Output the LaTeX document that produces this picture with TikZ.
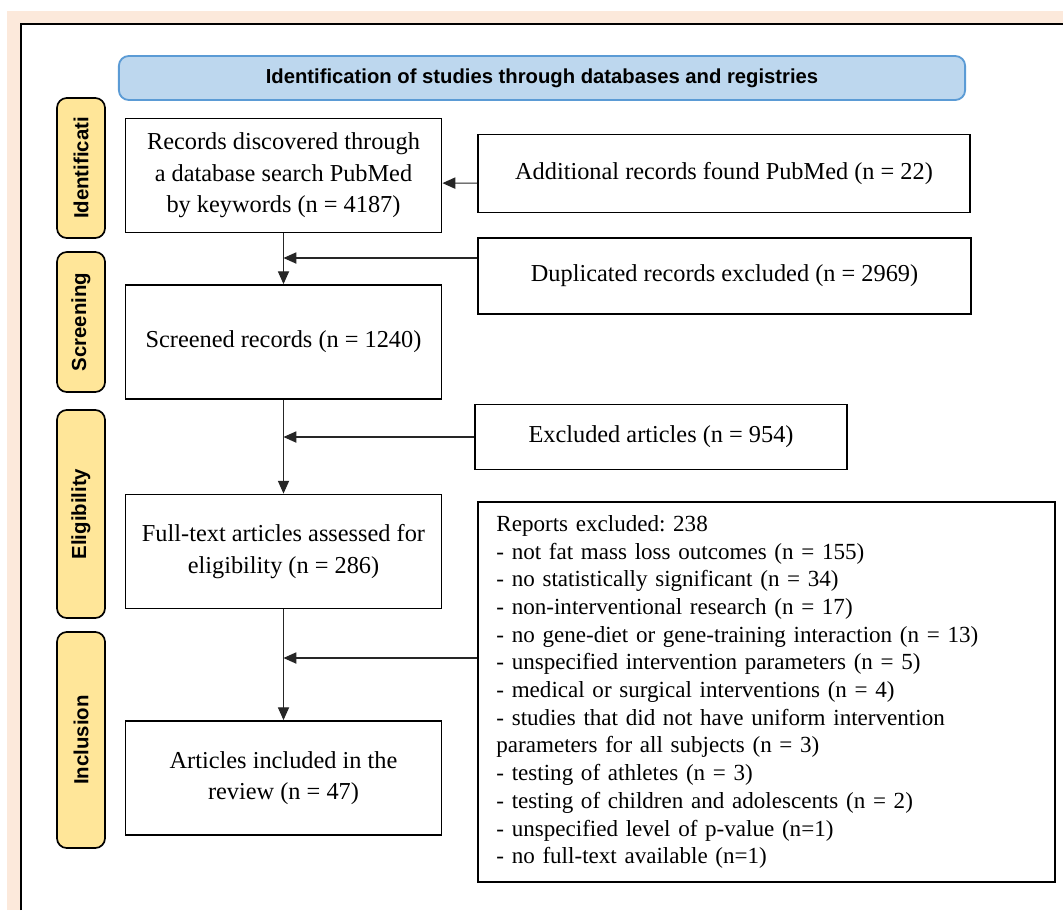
\documentclass[tikz,border=0pt]{standalone}
\usepackage{fontspec}
\setmainfont{Liberation Serif}
\setsansfont{Liberation Sans}
\usetikzlibrary{arrows.meta, positioning, calc}
\definecolor{peach}{RGB}{252,233,219}
\definecolor{headfill}{RGB}{189,215,238}
\definecolor{headline}{RGB}{91,155,213}
\definecolor{phasefill}{RGB}{255,230,153}
\frenchspacing
\tikzset{
    stepbox/.style={rectangle, draw, line width=1.3pt, minimum width=7.9cm, minimum height=2.85cm, align=center, inner sep=2pt, font=\fontsize{17.3}{22.5}\selectfont},
    sidebox/.style={rectangle, draw, line width=1.3pt, align=center, inner sep=2pt, font=\fontsize{17.3}{22.5}\selectfont},
    phasebox/.style={rectangle, draw, rounded corners=7pt, fill=phasefill, line width=1.2pt, rotate=90, minimum height=1.2cm, inner sep=1pt, font=\sffamily\bfseries\fontsize{14.5}{17}\selectfont},
    headbox/.style={rectangle, draw=headline, rounded corners=7pt, fill=headfill, line width=1.3pt, minimum width=21.15cm, minimum height=1.1cm, font=\sffamily\bfseries\fontsize{14.4}{17}\selectfont},
    flow/.style={->, line width=0.8pt, draw=black!85}
}

\begin{document}
\begin{tikzpicture}[x=0.025cm, y=-0.025cm, >={Triangle[length=3.2mm, width=2.8mm]}]
% page frame
  \useasboundingbox (0,0) rectangle (1063,910);
  \fill[peach] (7,11) rectangle (1063,910);
  \fill[white] (21,24) rectangle (1063,910);
  \draw[line width=1.2pt] (21,910) -- (21,24) -- (1063,24);
% heading and phases
  \node[headbox] (head) at (542,78) {Identification of studies through databases and registries};
  \node[phasebox, minimum width=3.5cm] (ph1) at (81,168) {Identificati};
  \node[phasebox, minimum width=3.5cm] (ph2) at (81,322) {Screening};
  \node[phasebox, minimum width=5.2cm] (ph3) at (81,514) {Eligibility};
  \node[phasebox, minimum width=5.4cm] (ph4) at (81,740) {Inclusion};
% main column
  \node[stepbox] (rec) at (283.5,175.5) {Records discovered through\\a database search PubMed\\by keywords (n = 4187)};
  \node[stepbox] (scr) at (283.5,342) {Screened records (n = 1240)};
  \node[stepbox] (full) at (283.5,551.5) {Full-text articles assessed for\\eligibility (n = 286)};
  \node[stepbox] (incl) at (283.5,778) {Articles included in the\\review (n = 47)};
% side column
  \node[sidebox, minimum width=12.3cm, minimum height=1.95cm] (add) at (724,173.5) {Additional records found PubMed (n = 22)};
  \node[sidebox, minimum width=12.325cm, minimum height=1.9cm] (dup) at (724.5,276) {Duplicated records excluded (n = 2969)};
  \node[sidebox, minimum width=9.3cm, minimum height=1.625cm] (exc) at (661,437) {Excluded articles (n = 954)};
  \node[sidebox, minimum width=14.425cm, minimum height=9.5cm, text width=13.5cm, align=left, inner xsep=0.45cm, font=\fontsize{16.4}{19.7}\selectfont] (rep) at (766.5,692) {Reports excluded: 238\\
- not fat mass loss outcomes (n = 155)\\
- no statistically significant (n = 34)\\
- non-interventional research (n = 17)\\
- no gene-diet or gene-training interaction (n = 13)\\
- unspecified intervention parameters (n = 5)\\
- medical or surgical interventions (n = 4)\\
- studies that did not have uniform intervention\\
parameters for all subjects (n = 3)\\
- testing of athletes (n = 3)\\
- testing of children and adolescents (n = 2)\\
- unspecified level of p-value (n=1)\\
- no full-text available (n=1)};
% connectors
  \coordinate (d1) at ([yshift=0.45cm]dup.west);
  \coordinate (r1) at ([yshift=0.85cm]rep.west);
  \draw[flow] ([yshift=-0.24cm]add.west) -- ([yshift=-0.19cm]rec.east);
  \draw[flow] (rec.south) -- (scr.north);
  \draw[flow] (d1) -- (rec.south |- d1);
  \draw[flow] (scr.south) -- (full.north);
  \draw[flow] (exc.west) -- (scr.south |- exc.west);
  \draw[flow] (full.south) -- (incl.north);
  \draw[flow] (r1) -- (full.south |- r1);
\end{tikzpicture}
\end{document}
